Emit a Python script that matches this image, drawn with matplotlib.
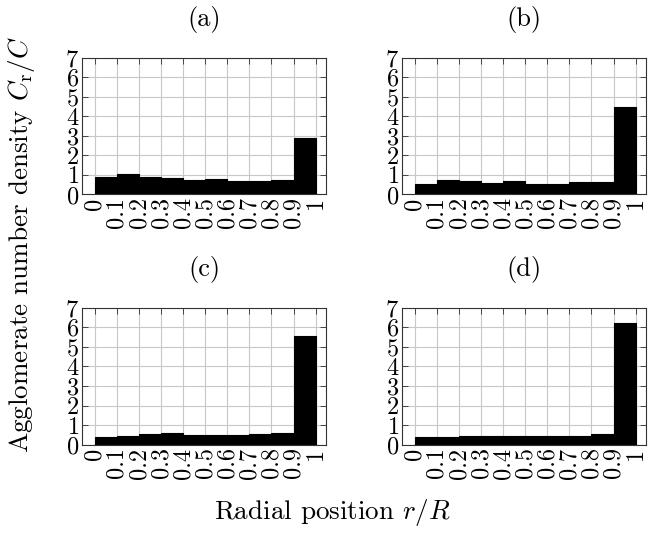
import numpy as np
import matplotlib.pyplot as plt

plt.rcParams['font.family'] = 'serif'
plt.rcParams['font.serif'] = ['cmr10']
plt.rcParams['mathtext.fontset'] = 'cm'
plt.rcParams['axes.formatter.use_mathtext'] = True

# bin edges along r/R and agglomerate density per bin
edges = [0, 0.1, 0.2, 0.3, 0.4, 0.5, 0.6, 0.7, 0.8, 0.9, 1.0]
tick_labels = ['0', '0.1', '0.2', '0.3', '0.4', '0.5', '0.6', '0.7', '0.8', '0.9', '1']
titles = ['(a)', '(b)', '(c)', '(d)']

dens_a = [0.90, 1.04, 0.87, 0.83, 0.76, 0.78, 0.68, 0.70, 0.75, 2.90]
dens_b = [0.56, 0.75, 0.68, 0.60, 0.68, 0.56, 0.56, 0.63, 0.66, 4.45]
dens_c = [0.40, 0.45, 0.54, 0.59, 0.52, 0.50, 0.49, 0.57, 0.62, 5.55]
dens_d = [0.38, 0.40, 0.43, 0.47, 0.43, 0.43, 0.43, 0.45, 0.55, 6.23]
all_dens = [dens_a, dens_b, dens_c, dens_d]

fig = plt.figure(figsize=(6.6, 5.35), dpi=100)

# axes boxes in pixels (left, top) -> figure fractions
W, H = 660, 535
boxes = [(82, 57.5), (402, 57.5), (82, 307.7), (402, 307.7)]
aw, ah = 244, 137

for (lx, ty), dens, title in zip(boxes, all_dens, titles):
    ax = fig.add_axes([lx / W, 1 - (ty + ah) / H, aw / W, ah / H])
    left = np.array(edges[:-1])
    widths = np.diff(edges)
    ax.bar(left, dens, width=widths, align='edge', color='black',
           edgecolor='black', linewidth=0.8, zorder=3)
    ax.set_xlim(-0.058, 1.047)
    ax.set_ylim(0, 7)
    ax.set_xticks(edges)
    ax.set_xticklabels(tick_labels, rotation=90)
    ax.set_yticks(range(8))
    ax.grid(True, color='#c8c8c8', linewidth=0.8, zorder=0)
    ax.tick_params(direction='in', top=True, right=True, length=4,
                   width=0.7, labelsize=17.5, pad=2, color='#444444')
    for s in ax.spines.values():
        s.set_linewidth(0.8)
        s.set_color('#333333')
    ax.set_title(title, fontsize=19, pad=23)

fig.text(22 / W, 1 - 245 / H, r'Agglomerate number density $C_\mathrm{r}/C$',
         rotation=90, fontsize=19.5, ha='center', va='center')
fig.text(332 / W, 1 - 512 / H, r'Radial position $r/R$',
         fontsize=19.5, ha='center', va='center')

fig.savefig('out.png', dpi=100)
